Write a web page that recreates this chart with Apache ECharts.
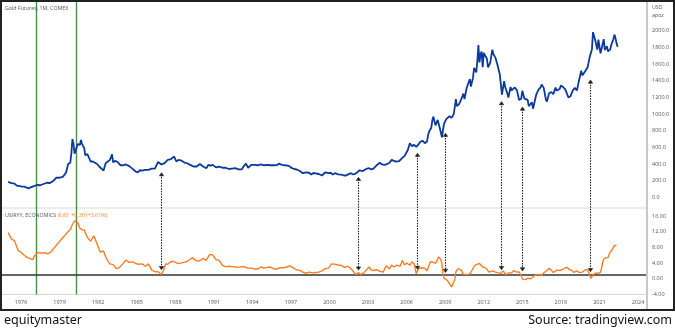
<!DOCTYPE html>
<html><head><meta charset="utf-8">
<script src="https://cdn.jsdelivr.net/npm/echarts/dist/echarts.min.js"></script>
<style>html,body{margin:0;padding:0;background:#fff}#c{width:675px;height:331px}</style>
</head><body><div id="c"></div>
<script>
// ---- data ----
const goldMonthly = [
["1975-01",185],["1975-04",170],["1975-07",165],["1975-09",140],["1976-01",130],["1976-04",128],["1976-08",108],["1976-10",120],
["1977-01",135],["1977-04",148],["1977-07",145],["1977-10",160],["1978-01",175],["1978-04",172],["1978-07",195],["1978-10",235],
["1979-01",235],["1979-04",245],["1979-07",295],["1979-09",400],["1979-10",385],["1979-11",415],["1979-12",525],["1980-01",700],
["1980-02",640],["1980-03",525],["1980-04",525],["1980-06",640],["1980-08",630],["1980-09",690],["1980-10",640],["1980-11",620],
["1980-12",590],["1981-01",505],["1981-03",520],["1981-06",430],["1981-08",430],["1981-09",445],["1981-12",400],["1982-02",370],
["1982-06",320],["1982-08",410],["1982-09",400],["1982-10",430],["1982-12",450],["1983-02",515],["1983-03",420],["1983-05",440],
["1983-07",425],["1983-10",385],["1983-12",385],["1984-03",395],["1984-06",375],["1984-09",345],["1984-12",310],["1985-02",300],
["1985-04",325],["1985-06",320],["1985-09",330],["1985-12",330],["1986-03",345],["1986-06",345],["1986-09",425],["1986-12",395],
["1987-03",410],["1987-06",450],["1987-09",460],["1987-12",490],["1988-02",430],["1988-04",450],["1988-07",440],["1988-10",415],
["1988-12",410],["1989-03",390],["1989-06",370],["1989-09",370],["1989-12",400],["1990-01",420],["1990-03",370],["1990-06",350],
["1990-08",390],["1990-10",380],["1990-12",390],["1991-03",360],["1991-06",368],["1991-09",355],["1991-12",355],["1992-03",340],
["1992-06",345],["1992-09",350],["1992-12",335],["1993-03",335],["1993-05",375],["1993-07",405],["1993-09",355],["1993-12",390],
["1994-03",390],["1994-06",385],["1994-09",395],["1994-12",385],["1995-03",390],["1995-06",385],["1995-09",385],["1995-12",387],
["1996-02",405],["1996-04",392],["1996-07",385],["1996-10",380],["1996-12",370],["1997-02",350],["1997-04",340],["1997-06",335],
["1997-08",325],["1997-10",310],["1997-12",290],["1998-03",300],["1998-06",295],["1998-08",275],["1998-10",292],["1998-12",288],
["1999-03",280],["1999-06",262],["1999-07",255],["1999-09",300],["1999-10",300],["1999-12",290],["2000-02",295],["2000-04",275],
["2000-06",290],["2000-09",275],["2000-12",272],["2001-02",265],["2001-04",260],["2001-06",272],["2001-09",290],["2001-11",275],
["2002-01",282],["2002-03",300],["2002-05",325],["2002-08",315],["2002-12",345],["2003-02",350],["2003-04",335],["2003-06",345],
["2003-09",385],["2003-12",415],["2004-02",395],["2004-04",390],["2004-06",395],["2004-09",415],["2004-11",450],["2004-12",438],
["2005-03",428],["2005-06",435],["2005-09",475],["2005-11",495],["2005-12",515],["2006-02",565],["2006-04",650],["2006-05",645],
["2006-06",615],["2006-08",630],["2006-10",605],["2006-12",635],["2007-02",670],["2007-04",680],["2007-06",650],["2007-08",670],
["2007-09",745],["2007-10",790],["2007-11",785],["2007-12",835],["2008-01",925],["2008-02",970],["2008-03",915],["2008-04",865],
["2008-06",930],["2008-07",915],["2008-08",830],["2008-10",720],["2008-11",815],["2008-12",885],["2009-02",940],["2009-03",920],
["2009-05",975],["2009-07",955],["2009-09",1000],["2009-11",1180],["2009-12",1095],["2010-02",1120],["2010-04",1180],["2010-06",1245],
["2010-07",1180],["2010-09",1310],["2010-11",1385],["2010-12",1420],["2011-01",1330],["2011-03",1440],["2011-04",1555],["2011-06",1500],
["2011-07",1630],["2011-08",1830],["2011-09",1620],["2011-10",1720],["2011-11",1750],["2011-12",1565],["2012-01",1735],["2012-02",1710],
["2012-04",1665],["2012-05",1560],["2012-07",1615],["2012-09",1775],["2012-10",1720],["2012-12",1675],["2013-02",1580],["2013-03",1595],
["2013-04",1475],["2013-06",1235],["2013-08",1395],["2013-09",1325],["2013-11",1250],["2013-12",1200],["2014-02",1325],["2014-03",1285],
["2014-06",1320],["2014-08",1285],["2014-10",1170],["2014-12",1185],["2015-01",1280],["2015-03",1185],["2015-06",1170],["2015-07",1095],
["2015-10",1140],["2015-11",1065],["2015-12",1060],["2016-02",1235],["2016-04",1290],["2016-06",1320],["2016-07",1355],["2016-09",1315],
["2016-11",1175],["2016-12",1150],["2017-02",1250],["2017-04",1265],["2017-06",1240],["2017-08",1320],["2017-09",1280],["2017-12",1305],
["2018-01",1345],["2018-03",1325],["2018-05",1300],["2018-08",1200],["2018-10",1215],["2018-12",1280],["2019-02",1315],["2019-04",1285],
["2019-06",1410],["2019-08",1520],["2019-09",1465],["2019-12",1520],["2020-02",1565],["2020-03",1580],["2020-04",1690],["2020-06",1780],
["2020-07",1985],["2020-08",1970],["2020-09",1890],["2020-11",1775],["2020-12",1895],["2021-02",1730],["2021-03",1715],["2021-05",1900],
["2021-06",1770],["2021-08",1815],["2021-09",1755],["2021-11",1775],["2021-12",1830],["2022-02",1900],["2022-03",1955],["2022-04",1910],
["2022-05",1850],["2022-06",1810]
];
const cpiMonthly = [
["1975-01",11.8],["1975-04",10.2],["1975-07",9.7],["1975-10",7.4],["1976-01",6.7],["1976-04",6.0],["1976-07",5.4],["1976-10",5.1],
["1976-12",4.9],["1977-02",6.0],["1977-05",6.7],["1977-08",6.6],["1977-11",6.7],["1978-02",6.4],["1978-05",6.9],["1978-08",7.9],
["1978-11",8.9],["1979-02",9.9],["1979-05",10.8],["1979-08",11.8],["1979-11",12.6],["1980-01",13.9],["1980-03",14.8],["1980-06",14.4],
["1980-08",12.9],["1980-10",12.6],["1980-12",12.5],["1981-03",10.6],["1981-06",9.6],["1981-09",11.0],["1981-12",8.9],["1982-03",6.8],
["1982-06",7.1],["1982-09",5.0],["1982-12",3.8],["1983-03",3.6],["1983-06",2.6],["1983-09",2.9],["1983-12",3.8],["1984-03",4.8],
["1984-06",4.2],["1984-09",4.3],["1984-12",3.9],["1985-03",3.7],["1985-06",3.8],["1985-09",3.2],["1985-12",3.8],["1986-03",2.2],
["1986-06",1.8],["1986-09",1.8],["1986-12",1.1],["1987-02",2.1],["1987-04",3.8],["1987-06",3.7],["1987-09",4.4],["1987-12",4.4],
["1988-03",3.9],["1988-06",4.0],["1988-09",4.2],["1988-12",4.4],["1989-03",5.0],["1989-05",5.4],["1989-08",4.7],["1989-10",4.5],
["1989-12",4.6],["1990-03",5.2],["1990-06",4.7],["1990-09",6.2],["1990-10",6.3],["1990-12",6.1],["1991-03",4.9],["1991-06",4.7],
["1991-09",3.4],["1991-12",3.1],["1992-03",3.2],["1992-06",3.1],["1992-09",3.0],["1992-12",2.9],["1993-03",3.1],["1993-06",3.0],
["1993-09",2.7],["1993-12",2.7],["1994-03",2.5],["1994-06",2.5],["1994-09",3.0],["1994-12",2.7],["1995-03",2.9],["1995-06",3.0],
["1995-09",2.5],["1995-12",2.5],["1996-03",2.8],["1996-06",2.8],["1996-09",3.0],["1996-12",3.3],["1997-03",2.8],["1997-06",2.3],
["1997-09",2.2],["1997-12",1.7],["1998-03",1.4],["1998-06",1.7],["1998-09",1.5],["1998-12",1.6],["1999-03",1.7],["1999-06",2.0],
["1999-09",2.6],["1999-12",2.7],["2000-03",3.8],["2000-06",3.7],["2000-09",3.5],["2000-12",3.4],["2001-03",2.9],["2001-06",3.2],
["2001-09",2.6],["2001-12",1.6],["2002-02",1.1],["2002-04",1.6],["2002-06",1.1],["2002-09",1.5],["2002-12",2.4],["2003-02",3.0],
["2003-04",2.2],["2003-06",2.1],["2003-09",2.3],["2003-12",1.9],["2004-03",1.7],["2004-06",3.3],["2004-09",2.5],["2004-11",3.5],
["2005-01",3.0],["2005-04",3.5],["2005-07",3.2],["2005-09",4.7],["2005-11",3.5],["2006-01",4.0],["2006-04",3.5],["2006-06",4.3],
["2006-08",3.8],["2006-10",1.3],["2006-12",2.5],["2007-03",2.8],["2007-06",2.7],["2007-08",2.0],["2007-11",4.3],["2008-01",4.3],
["2008-04",3.9],["2008-07",5.6],["2008-09",4.9],["2008-10",3.7],["2008-11",1.1],["2008-12",0.1],["2009-03",-0.4],["2009-07",-2.1],
["2009-10",-0.2],["2009-11",1.8],["2010-01",2.6],["2010-04",2.2],["2010-06",1.1],["2010-09",1.1],["2010-11",1.1],["2011-01",1.6],
["2011-04",3.2],["2011-06",3.6],["2011-09",3.9],["2011-12",3.0],["2012-03",2.7],["2012-06",1.7],["2012-09",2.0],["2012-12",1.7],
["2013-03",1.5],["2013-05",1.4],["2013-07",2.0],["2013-10",1.0],["2013-12",1.5],["2014-03",1.5],["2014-05",2.1],["2014-08",1.7],
["2014-10",1.7],["2014-12",0.8],["2015-01",-0.1],["2015-04",-0.2],["2015-06",0.1],["2015-09",0.0],["2015-12",0.7],["2016-02",1.0],
["2016-04",1.1],["2016-07",0.8],["2016-09",1.5],["2016-12",2.1],["2017-02",2.7],["2017-04",2.2],["2017-06",1.6],["2017-09",2.2],
["2017-12",2.1],["2018-03",2.4],["2018-05",2.8],["2018-07",2.9],["2018-09",2.3],["2018-11",2.2],["2019-01",1.6],["2019-04",2.0],
["2019-06",1.6],["2019-09",1.7],["2019-12",2.3],["2020-02",2.3],["2020-03",1.5],["2020-05",0.1],["2020-07",1.0],["2020-09",1.4],
["2020-12",1.4],["2021-02",1.7],["2021-03",2.6],["2021-04",4.2],["2021-05",5.0],["2021-07",5.4],["2021-09",5.4],["2021-10",6.2],
["2021-11",6.8],["2021-12",7.0],["2022-01",7.5],["2022-02",7.9],["2022-03",8.5],["2022-04",8.3],["2022-05",8.6]
];
const xTickYears = [1976,1979,1982,1985,1988,1991,1994,1997,2000,2003,2006,2009,2012,2015,2018,2021,2024];
const goldTicks = [0,200,400,600,800,1000,1200,1400,1600,1800,2000];
const cpiTicks = [-4,0,4,8,12,16];
const greenLineYears = [1977.17, 1980.28];
const cpiBaseline = 1.0;
const arrowYears = [1986.89, 2002.22, 2006.81, 2008.99, 2013.34, 2014.98, 2020.27];
const arrowGoldTop = [296, 240, 530, 770, 1150, 1085, 1410];
const arrowCpiBottom = [2.3, 2.2, 2.4, 1.6, 2.3, 2.0, 1.8];
const goldTitle = "Gold Futures, 1M, COMEX";
const cpiTitle = "USIRYY, ECONOMICS";
const cpiLast = "8.60  +0.30 (+3.61%)";

function toYear(s){ const p = s.split('-').map(Number); return p[0] + (p[1]-1)/12; }

const chart = echarts.init(document.getElementById('c'));
const FONT = 'Open Sans';
const X_MIN = 1974.444, X_MAX = 2024.70;
const lblStyle = {fontFamily: FONT, fontSize: 5.5, color: '#555'};

const greenML = greenLineYears.map(y => ({xAxis: y}));

chart.setOption({
  animation: false,
  backgroundColor: '#fff',
  grid: [
    {left: 1, right: 28, top: 1, height: 207},
    {left: 1, right: 28, top: 208, height: 86.3}
  ],
  xAxis: [
    {type: 'value', gridIndex: 0, min: X_MIN, max: X_MAX,
     axisLabel: {show: false}, axisTick: {show: false}, splitLine: {show: false},
     axisLine: {show: true, onZero: false, lineStyle: {color: '#ececec', width: 2}}},
    {type: 'value', gridIndex: 1, min: X_MIN, max: X_MAX,
     axisLabel: Object.assign({customValues: xTickYears, margin: 5,
       formatter: v => String(Math.round(v))}, lblStyle),
     axisTick: {show: false}, splitLine: {show: false},
     axisLine: {show: true, onZero: false, lineStyle: {color: '#d6d6d6', width: 1.2}}}
  ],
  yAxis: [
    {type: 'value', gridIndex: 0, position: 'right', min: -128.6, max: 2359,
     axisLabel: Object.assign({customValues: goldTicks, margin: 5, formatter: v => v.toFixed(1)}, lblStyle),
     axisTick: {show: false}, splitLine: {show: false}, axisLine: {show: false, onZero: false}},
    {type: 'value', gridIndex: 1, position: 'right', min: -4, max: 18.13,
     axisLabel: Object.assign({customValues: cpiTicks, margin: 5, formatter: v => v.toFixed(2)}, lblStyle),
     axisTick: {show: false}, splitLine: {show: false}, axisLine: {show: false, onZero: false}}
  ],
  series: [
    {type: 'line', xAxisIndex: 0, yAxisIndex: 0, showSymbol: false, silent: true,
     data: goldMonthly.map(d => [toYear(d[0]), d[1]]),
     lineStyle: {color: '#0b3a9c', width: 1.8}, z: 5,
     markLine: {silent: true, symbol: ['none','none'], label: {show: false},
       lineStyle: {color: '#4a8c4a', width: 1.4, type: 'solid'}, data: greenML}},
    {type: 'line', xAxisIndex: 1, yAxisIndex: 1, showSymbol: false, silent: true,
     data: cpiMonthly.map(d => [toYear(d[0]), d[1]]),
     lineStyle: {color: '#fb7d23', width: 1.4}, z: 5,
     markLine: {silent: true, symbol: ['none','none'], label: {show: false},
       lineStyle: {color: '#4a8c4a', width: 1.4, type: 'solid'},
       data: greenML.concat([{yAxis: cpiBaseline, lineStyle: {color: '#333', width: 1.5}}])}}
  ]
});

// decorations computed through the chart's own scales
const gfx = [];
const rightX = chart.convertToPixel({xAxisIndex: 1}, X_MAX);
gfx.push({type: 'line', shape: {x1: rightX, y1: 0, x2: rightX, y2: 310}, style: {stroke: '#c8c8c8', lineWidth: 2}, z: 10});
gfx.push({type: 'rect', shape: {x: 1, y: 1, width: 673, height: 309}, style: {stroke: '#222', lineWidth: 2, fill: null}, z: 20});
arrowYears.forEach((yr, i) => {
  const t = chart.convertToPixel({seriesIndex: 0}, [yr, arrowGoldTop[i]]);
  const b = chart.convertToPixel({seriesIndex: 1}, [yr, arrowCpiBottom[i]]);
  const x = Math.round(t[0]) + 0.5;
  gfx.push({type: 'line', shape: {x1: x, y1: t[1] + 2, x2: x, y2: b[1] - 2},
    style: {stroke: '#222', lineWidth: 1.1, lineDash: [1.5, 1.2]}, z: 12});
  gfx.push({type: 'polygon', shape: {points: [[x - 2.2, t[1] + 3.2], [x, t[1]], [x + 2.2, t[1] + 3.2]]},
    style: {fill: '#222', stroke: '#222', lineWidth: 0.6}, z: 12});
  gfx.push({type: 'polygon', shape: {points: [[x - 2.2, b[1] - 3.2], [x, b[1]], [x + 2.2, b[1] - 3.2]]},
    style: {fill: '#222', stroke: '#222', lineWidth: 0.6}, z: 12});
});
const txt = (x, y, s, o) => ({type: 'text', x: x, y: y, z: 15,
  style: Object.assign({text: s, fontFamily: FONT, fontSize: 5.3, fill: '#555', textVerticalAlign: 'middle', verticalAlign: 'middle'}, o || {})});
gfx.push(txt(5, 8, goldTitle));
gfx.push(txt(5, 215.5, cpiTitle));
gfx.push(txt(58, 215.5, cpiLast, {fill: '#fb7d23'}));
gfx.push(txt(rightX + 5, 7, 'USD'));
gfx.push(txt(rightX + 5, 15.5, 'apoz'));
gfx.push(txt(4, 320, 'equitymaster', {fontSize: 12.5, fill: '#111', fontFamily: 'Noto Sans'}));
gfx.push(txt(672, 320, 'Source: tradingview.com', {fontSize: 12.5, fill: '#111', fontFamily: 'Noto Sans', align: 'right', textAlign: 'right'}));
chart.setOption({graphic: gfx});
</script>
</body></html>
